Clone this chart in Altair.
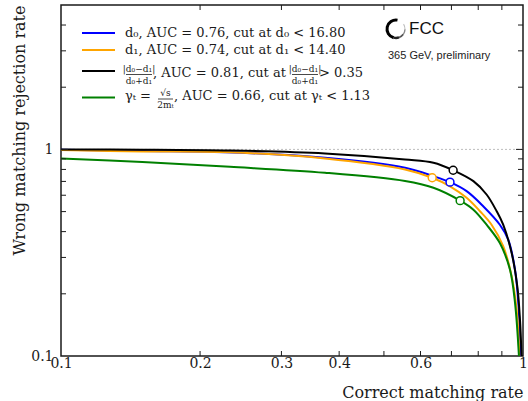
import altair as alt
import pandas as pd

# ROC-style curves: correct matching rate (x) vs wrong matching rejection rate (y)
d0_eff = [0.1, 0.15, 0.2265, 0.3727, 0.5555, 0.640, 0.695, 0.755, 0.820, 0.891, 0.929, 0.961, 0.977, 0.989]
d0_rej = [0.995, 0.983, 0.970, 0.911, 0.815, 0.742, 0.694, 0.628, 0.531, 0.432, 0.366, 0.262, 0.180, 0.100]

d1_eff = [0.1, 0.15, 0.232, 0.3727, 0.5555, 0.636, 0.695, 0.755, 0.807, 0.855, 0.906, 0.945, 0.969, 0.982]
d1_rej = [0.993, 0.978, 0.968, 0.904, 0.800, 0.729, 0.663, 0.583, 0.502, 0.432, 0.340, 0.243, 0.167, 0.100]

ratio_eff = [0.1, 0.15, 0.2322, 0.3727, 0.5555, 0.640, 0.706, 0.781, 0.834, 0.877, 0.906, 0.945, 0.972, 0.985, 0.993]
ratio_rej = [0.998, 0.997, 0.988, 0.956, 0.894, 0.862, 0.793, 0.702, 0.605, 0.502, 0.432, 0.315, 0.217, 0.150, 0.100]

gamma_eff = [0.1, 0.15, 0.2322, 0.3727, 0.5555, 0.640, 0.731, 0.781, 0.834, 0.891, 0.937, 0.961, 0.980]
gamma_rej = [0.904, 0.868, 0.824, 0.771, 0.703, 0.652, 0.565, 0.511, 0.432, 0.352, 0.262, 0.181, 0.100]

# chosen cut (working point) for each variable
wp_eff = [0.695, 0.636, 0.706, 0.731]
wp_rej = [0.694, 0.729, 0.793, 0.565]

series_names = ["d0", "d1", "ratio", "gamma"]
series_colors = ["#0000ff", "#ffa500", "#000000", "#008000"]
series_eff = [d0_eff, d1_eff, ratio_eff, gamma_eff]
series_rej = [d0_rej, d1_rej, ratio_rej, gamma_rej]

x_labels = [0.1, 0.2, 0.3, 0.4, 0.6, 1]
y_labels = [0.1, 1]
x_minor = [0.2, 0.3, 0.4, 0.5, 0.6, 0.7, 0.8, 0.9]
y_minor = [0.2, 0.3, 0.4, 0.5, 0.6, 0.7, 0.8, 0.9, 2, 3, 4]
y_major = [1]

W, H = 462, 351
SERIF = "DejaVu Serif"
SANS = "Liberation Sans"
INK = "#1a1a1a"

xscale = alt.Scale(type="log", domain=[0.1, 1], nice=False)
yscale = alt.Scale(type="log", domain=[0.1, 5], nice=False)

xaxis = alt.Axis(values=x_labels, format="~g", domain=False, ticks=False, grid=False,
                 labelFont=SERIF, labelFontSize=14, labelColor=INK, labelPadding=0,
                 labelFlush=False,
                 title="Correct matching rate", titleFont=SERIF, titleFontSize=16,
                 titleFontWeight="normal", titleColor=INK, titleAnchor="end",
                 titleAlign="right", titleBaseline="alphabetic", titleX=W, titleY=41)
yaxis = alt.Axis(values=y_labels, format="~g", domain=False, ticks=False, grid=False,
                 labelFont=SERIF, labelFontSize=14, labelColor=INK, labelPadding=8,
                 labelFlush=False,
                 title="Wrong matching rejection rate", titleFont=SERIF, titleFontSize=16,
                 titleFontWeight="normal", titleColor=INK, titleAngle=270,
                 titleAlign="right", titleBaseline="alphabetic", titleX=-37, titleY=0)

def X(field="eff"):
    return alt.X(f"{field}:Q", scale=xscale, axis=xaxis)

def Y(field="rej"):
    return alt.Y(f"{field}:Q", scale=yscale, axis=yaxis)

one = pd.DataFrame({"k": [0]})
layers = []

# reference line at rejection rate 1
layers.append(
    alt.Chart(pd.DataFrame({"rej": [1.0]})).mark_rule(color="#bdbdbd", strokeWidth=1, strokeDash=[2, 2])
    .encode(y=Y(), x=alt.value(0), x2=alt.value(W))
)

# curves
for name, col, ex, ry in zip(series_names, series_colors, series_eff, series_rej):
    df = pd.DataFrame({"eff": ex, "rej": ry})
    layers.append(
        alt.Chart(df).mark_line(color=col, strokeWidth=2, clip=True, interpolate="catmull-rom")
        .encode(x=X(), y=Y())
    )

# working points
for i, col in enumerate(series_colors):
    df = pd.DataFrame({"eff": [wp_eff[i]], "rej": [wp_rej[i]]})
    layers.append(
        alt.Chart(df).mark_point(shape="circle", size=62, filled=False, fill="white",
                                 fillOpacity=1, stroke=col, strokeWidth=1.5, opacity=1)
        .encode(x=X(), y=Y())
    )

# inward ticks on all four sides
def xticks(vals, ln):
    d = pd.DataFrame({"eff": vals})
    bot = alt.Chart(d).mark_rule(color=INK, strokeWidth=1).encode(
        x=X(), y=alt.value(H), y2=alt.value(H - ln))
    top = alt.Chart(d).mark_rule(color=INK, strokeWidth=1).encode(
        x=X(), y=alt.value(0), y2=alt.value(ln))
    return [bot, top]

def yticks(vals, ln):
    d = pd.DataFrame({"rej": vals})
    lft = alt.Chart(d).mark_rule(color=INK, strokeWidth=1).encode(
        y=Y(), x=alt.value(0), x2=alt.value(ln))
    rgt = alt.Chart(d).mark_rule(color=INK, strokeWidth=1).encode(
        y=Y(), x=alt.value(W), x2=alt.value(W - ln))
    return [lft, rgt]

layers += xticks(x_minor, 5) + yticks(y_minor, 5) + yticks(y_major, 7)

# legend
leg_rows = [28, 45, 66, 92.5]
for col, yy in zip(series_colors, leg_rows):
    layers.append(alt.Chart(one).mark_rule(color=col, strokeWidth=2)
                  .encode(x=alt.value(21), x2=alt.value(54), y=alt.value(yy)))

def txt(s, x, y, size=13, font=SERIF, align="left", color=INK):
    return alt.Chart(one).mark_text(text=s, font=font, fontSize=size, align=align,
                                    baseline="middle", color=color).encode(
        x=alt.value(x), y=alt.value(y))

def bar(xa, xb, y):
    return alt.Chart(one).mark_rule(color=INK, strokeWidth=0.8).encode(
        x=alt.value(xa), x2=alt.value(xb), y=alt.value(y))

layers += [
    txt("d\u2080, AUC = 0.76, cut at d\u2080 < 16.80", 64, 28),
    txt("d\u2081, AUC = 0.74, cut at d\u2081 < 14.40", 64, 45),
    # |d0-d1| / (d0+d1)
    txt("|d\u2080\u2212d\u2081|", 78, 63.5, size=9, align="center"),
    bar(65, 91, 69.5),
    txt("d\u2080+d\u2081", 78, 75.5, size=9, align="center"),
    txt(", AUC = 0.81, cut at", 92, 67.5),
    txt("|d\u2080\u2212d\u2081|", 244, 63.5, size=9, align="center"),
    bar(231, 257, 69.5),
    txt("d\u2080+d\u2081", 244, 75.5, size=9, align="center"),
    txt(" > 0.35", 258, 67.5),
    # gamma_t = sqrt(s) / 2 m_t
    txt("\u03b3\u209c =", 64, 91),
    txt("\u221as", 104.5, 88, size=9, align="center"),
    bar(97, 112, 94),
    txt("2m\u209c", 104.5, 100, size=9, align="center"),
    txt(", AUC = 0.66, cut at \u03b3\u209c < 1.13", 113, 91),
]

# FCC mark: ring, heavy black on the left thinning to grey on the right
ring = [
    (3.4, 6.45, "#000000", 10.5, 7.5),
    (2.8, 3.4, "#222222", 10.2, 7.8),
    (2.2, 2.8, "#555555", 9.9, 8.1),
    (1.6, 2.2, "#888888", 9.7, 8.3),
    (1.0, 1.6, "#bbbbbb", 9.5, 8.5),
]
for t0, t1, c, r0, r1 in ring:
    layers.append(alt.Chart(one).mark_arc(theta=t0, theta2=t1, radius=r0, radius2=r1, color=c)
                  .encode(x=alt.value(335), y=alt.value(24)))
layers += [
    txt("FCC", 348, 24, size=17, font=SANS, color="#111111"),
    txt("365 GeV, preliminary", 327, 51, size=11, font=SANS, color="#222222"),
]

chart = alt.layer(*layers).properties(
    width=W, height=H,
    padding={"left": 61, "top": 5, "right": 5, "bottom": 45},
    autosize=alt.AutoSizeParams(type="none"),
    background="white",
).configure_view(stroke=INK, strokeWidth=1.5)

chart.save("out.html", embed_options={"renderer": "svg", "actions": False})
